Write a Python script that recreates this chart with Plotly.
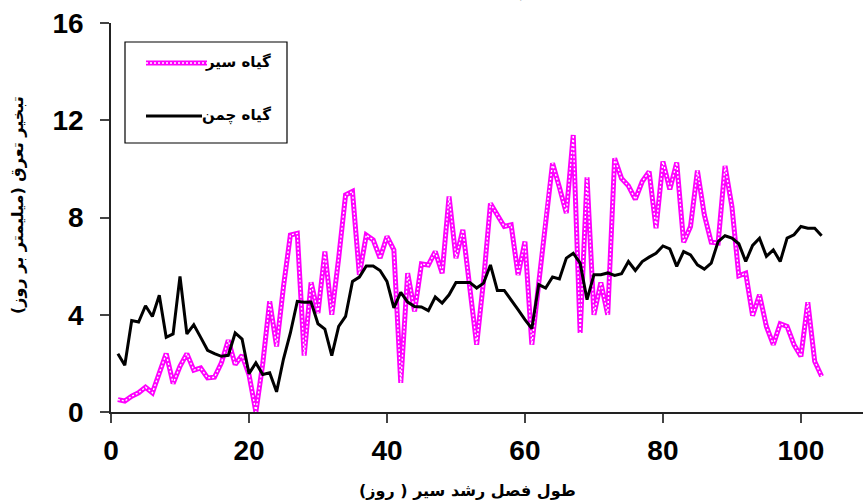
import plotly.graph_objects as go

days = list(range(1, 104))

garlic = [0.51, 0.45, 0.65, 0.79, 1.02, 0.79, 1.6, 2.40, 1.17, 1.88,
          2.40, 1.72, 1.81, 1.40, 1.43, 2.02, 2.95, 1.95, 2.33, 1.54,
          0.0, 2.0, 4.55, 2.70, 5.16, 7.28, 7.35, 2.32, 5.33, 4.07,
          6.60, 4.00, 6.33, 8.93, 9.07, 5.64, 7.28, 7.08, 6.33, 7.22,
          6.67, 1.20, 5.71, 4.14, 6.09, 6.05, 6.60, 5.71, 8.86, 6.33,
          7.49, 5.23, 2.77, 5.4, 8.58, 8.10, 7.63, 7.70, 5.64, 7.01,
          2.77, 5.3, 7.97, 10.23, 9.24, 8.18, 11.39, 3.25, 9.65, 4.00,
          5.33, 4.00, 10.43, 9.61, 9.30, 8.75, 9.48, 9.89, 7.56, 10.30,
          9.16, 10.26, 6.98, 7.63, 9.93, 8.11, 6.98, 6.95, 10.12, 8.45,
          5.60, 5.71, 3.96, 4.82, 3.52, 2.77, 3.63, 3.52, 2.77, 2.29,
          4.51, 2.08, 1.47]

grass = [2.40, 1.92, 3.76, 3.70, 4.37, 3.93, 4.80, 3.07, 3.21, 5.58,
         3.21, 3.59, 3.07, 2.54, 2.40, 2.29, 2.33, 3.25, 3.00, 1.58,
         2.02, 1.54, 1.61, 0.83, 2.18, 3.25, 4.55, 4.51, 4.52, 3.63,
         3.41, 2.32, 3.52, 3.93, 5.37, 5.55, 6.01, 6.01, 5.82, 5.37,
         4.28, 4.92, 4.52, 4.34, 4.32, 4.17, 4.73, 4.48, 4.82, 5.33,
         5.33, 5.33, 5.10, 5.30, 6.05, 5.00, 5.00, 4.62, 4.21, 3.80,
         3.43, 5.24, 5.10, 5.55, 5.47, 6.33, 6.53, 6.12, 4.62, 5.65,
         5.65, 5.72, 5.62, 5.69, 6.19, 5.82, 6.19, 6.37, 6.53, 6.83,
         6.71, 5.99, 6.60, 6.46, 6.05, 5.88, 6.12, 7.01, 7.25, 7.15,
         6.92, 6.19, 6.85, 7.15, 6.40, 6.67, 6.19, 7.15, 7.29, 7.63,
         7.56, 7.56, 7.25]

x_ticks = [0, 20, 40, 60, 80, 100]
y_ticks = [0, 4, 8, 12, 16]

label_garlic = "گیاه سیر"
label_grass = "گیاه چمن"
x_title = "طول فصل رشد سیر ( روز)"
y_title = "تبخیر تعرق (میلیمتر بر روز)"
top_title = "مقایسه تبخیر تعرق گیاه سیر و گیاه چمن"

MAGENTA = "#FF00FF"
NUM_FONT = "Liberation Sans, Arial, sans-serif"
FA_FONT = "DejaVu Sans, Noto Sans, sans-serif"

fig = go.Figure()
fig.add_trace(go.Scatter(x=days, y=garlic, mode="lines",
                         line=dict(color=MAGENTA, width=5),
                         showlegend=False, hoverinfo="skip"))
fig.add_trace(go.Scatter(x=days, y=garlic, mode="lines",
                         line=dict(color="white", width=1.4, dash="2px,2px"),
                         showlegend=False, name=label_garlic))
fig.add_trace(go.Scatter(x=days, y=grass, mode="lines",
                         line=dict(color="black", width=3),
                         showlegend=False, name=label_grass))

W, H = 863, 504
L, R, T, B = 111, 0, 23, 92
pw, ph = W - L - R, H - T - B


def px(x):
    return (x - L) / pw


def py(y):
    return (H - B - y) / ph


shapes = [
    dict(type="rect", xref="paper", yref="paper",
         x0=px(125), x1=px(287), y0=py(143), y1=py(42),
         line=dict(color="black", width=1.2), fillcolor="white", layer="above"),
    dict(type="line", xref="paper", yref="paper",
         x0=px(146), x1=px(207), y0=py(63), y1=py(63),
         line=dict(color=MAGENTA, width=5), layer="above"),
    dict(type="line", xref="paper", yref="paper",
         x0=px(146), x1=px(207), y0=py(63), y1=py(63),
         line=dict(color="white", width=1.4, dash="2px,2px"), layer="above"),
    dict(type="line", xref="paper", yref="paper",
         x0=px(146), x1=px(202), y0=py(116), y1=py(116),
         line=dict(color="black", width=3), layer="above"),
]

annotations = [
    dict(text="<b>%s</b>" % label_garlic, xref="paper", yref="paper",
         x=px(273), y=py(62), xanchor="right", yanchor="middle",
         showarrow=False, font=dict(family=FA_FONT, size=15, color="black")),
    dict(text="<b>%s</b>" % label_grass, xref="paper", yref="paper",
         x=px(273), y=py(115), xanchor="right", yanchor="middle",
         showarrow=False, font=dict(family=FA_FONT, size=15, color="black")),
    dict(text="<b>%s</b>" % x_title, xref="paper", yref="paper",
         x=px(467), y=py(490), xanchor="center", yanchor="middle",
         showarrow=False, font=dict(family=FA_FONT, size=16, color="black")),
    dict(text="<b>%s</b>" % y_title, xref="paper", yref="paper",
         x=px(18), y=py(205), xanchor="center", yanchor="middle", textangle=-90,
         showarrow=False, font=dict(family=FA_FONT, size=16, color="black")),
    dict(text="<b>%s</b>" % top_title, xref="paper", yref="paper",
         x=px(650), y=py(-9), xanchor="center", yanchor="middle",
         showarrow=False, font=dict(family=FA_FONT, size=16, color="black")),
]

fig.update_layout(
    width=W, height=H,
    margin=dict(l=L, r=R, t=T, b=B, pad=0),
    paper_bgcolor="white", plot_bgcolor="white",
    showlegend=False,
    shapes=shapes, annotations=annotations,
    xaxis=dict(range=[0, 109], tickvals=x_ticks, showgrid=False, zeroline=False,
               showline=True, linecolor="#222", linewidth=1.5,
               ticks="outside", ticklen=9, tickwidth=1.5, tickcolor="#444",
               ticklabelstandoff=4, automargin=False,
               tickfont=dict(family=NUM_FONT, size=28, color="black", weight="bold")),
    yaxis=dict(range=[0, 16], tickvals=y_ticks, showgrid=False, zeroline=False,
               showline=True, linecolor="#222", linewidth=1.5,
               ticks="outside", ticklen=9, tickwidth=1.5, tickcolor="#444",
               ticklabelstandoff=11, automargin=False,
               tickfont=dict(family=NUM_FONT, size=28, color="black", weight="bold")),
)

fig.write_html("out.html", config={"displayModeBar": False},
               post_script="document.body.style.margin='0px';document.body.style.padding='0px';")
